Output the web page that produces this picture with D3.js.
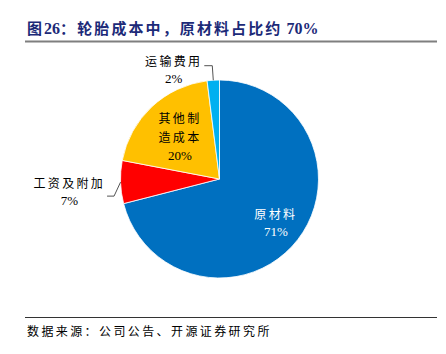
<!DOCTYPE html>
<html>
<head>
<meta charset="utf-8">
<script src="https://cdn.jsdelivr.net/npm/d3@7"></script>
<style>
  html, body { margin: 0; padding: 0; background: #fff; }
  svg { display: block; }
</style>
</head>
<body>
<script>
// chart data
const categories = ['原材料', '工资及附加', '其他制造成本', '运输费用']
const shares = [71, 7, 20, 2]
const sliceColors = ['#0070C0', '#FF0000', '#FFC000', '#00B0F0']
const labelLines = [['原材料'], ['工资及附加'], ['其他制', '造成本'], ['运输费用']]
const titleText = '图26：轮胎成本中，原材料占比约 70%'
const sourceText = '数据来源：公司公告、开源证券研究所'

const width = 446
const height = 354
const cx = 219.5
const cy = 179
const radius = 99
const serif = '"Liberation Serif", "Noto Sans CJK SC", serif'

// how each label sits: inside at a fraction of the radius, or outside with a leader
const labelLayout = {
  原材料: { inside: 0.72, lineHeight: 17.5, color: '#fff' },
  其他制造成本: { inside: 0.583, lineHeight: 18.5, color: '#000' },
  工资及附加: { elbow: [-6.5, 14], run: 7, nameDy: -8, pctDy: 17, color: '#000' },
  运输费用: { elbow: [-1, -14.5], run: 8, nameDy: 0.5, pctDy: 17, color: '#000' },
}

// CJK runs get letter spacing, latin runs (digits, %) stay tight
const spacedText = (sel, str, spacing, latinSize) => {
  sel.selectAll('tspan')
    .data(str.match(/[\x00-\x7f]+|[^\x00-\x7f]+/g))
    .join('tspan')
    .attr('letter-spacing', (s) => (/[^\x00-\x7f]/.test(s) ? spacing : 0))
    .attr('font-size', (s) => (latinSize && !/[^\x00-\x7f]/.test(s) ? latinSize : null))
    .text((s) => s)
}

const svg = d3.select('body').append('svg')
  .attr('width', width)
  .attr('height', height)
  .attr('viewBox', `0,0,${width},${height}`)

// title
svg.append('text')
  .attr('x', 27)
  .attr('y', 34)
  .attr('font-family', serif)
  .attr('font-size', 15)
  .attr('font-weight', 'bold')
  .attr('fill', '#1c2a78')
  .call(spacedText, titleText, 2.1, 16)

svg.append('line')
  .attr('x1', 25).attr('x2', 437)
  .attr('y1', 41.5).attr('y2', 41.5)
  .attr('stroke', '#7f7f7f')
  .attr('stroke-width', 2)

// pie
const pie = d3.pie().sort(null).value((d) => d.value)
const slices = pie(categories.map((c, i) => ({ name: c, value: shares[i], color: sliceColors[i], lines: labelLines[i] })))

const arc = d3.arc().innerRadius(0).outerRadius(radius)
const g = svg.append('g').attr('transform', `translate(${cx},${cy})`)

g.selectAll('path.slice')
  .data(slices)
  .join('path')
  .attr('class', 'slice')
  .attr('d', arc)
  .attr('fill', (d) => d.data.color)
  .attr('stroke', '#fff')
  .attr('stroke-width', 0.8)

// labels
slices.forEach((d) => {
  const lay = labelLayout[d.data.name]
  const pct = `${d.data.value}%`
  const label = (s) => g.append('text')
    .attr('font-family', serif)
    .attr('font-size', 12)
    .attr('fill', lay.color)
    .call(spacedText, s, 2.3, 13)

  if (lay.inside) {
    const [lx, ly] = d3.arc().innerRadius(radius * lay.inside).outerRadius(radius * lay.inside).centroid(d)
    const lines = d.data.lines.concat([pct])
    const first = ly - ((lines.length - 1) * lay.lineHeight) / 2 + 5
    lines.forEach((s, k) => {
      label(s)
        .attr('x', lx)
        .attr('y', first + k * lay.lineHeight)
        .attr('text-anchor', 'middle')
    })
    return
  }

  // outside label with elbow leader
  const [px, py] = d3.arc().innerRadius(radius).outerRadius(radius).centroid(d)
  const ex = px + lay.elbow[0]
  const ey = py + lay.elbow[1]
  const hx = ex - lay.run
  g.append('polyline')
    .attr('points', [[px, py], [ex, ey], [hx, ey]].map((p) => p.join(',')).join(' '))
    .attr('fill', 'none')
    .attr('stroke', '#404040')
    .attr('stroke-width', 0.9)

  const name = label(d.data.lines[0])
    .attr('x', hx - 2)
    .attr('y', ey + lay.nameDy)
    .attr('text-anchor', 'end')
  const box = name.node().getBBox()
  label(pct)
    .attr('x', box.x + box.width / 2)
    .attr('y', ey + lay.nameDy + lay.pctDy)
    .attr('text-anchor', 'middle')
})

// source
svg.append('line')
  .attr('x1', 25).attr('x2', 437)
  .attr('y1', 317.5).attr('y2', 317.5)
  .attr('stroke', '#333')
  .attr('stroke-width', 1)

svg.append('text')
  .attr('x', 27)
  .attr('y', 336)
  .attr('font-family', serif)
  .attr('font-size', 12)
  .attr('letter-spacing', 2.4)
  .attr('fill', '#000')
  .text(sourceText)
</script>
</body>
</html>
